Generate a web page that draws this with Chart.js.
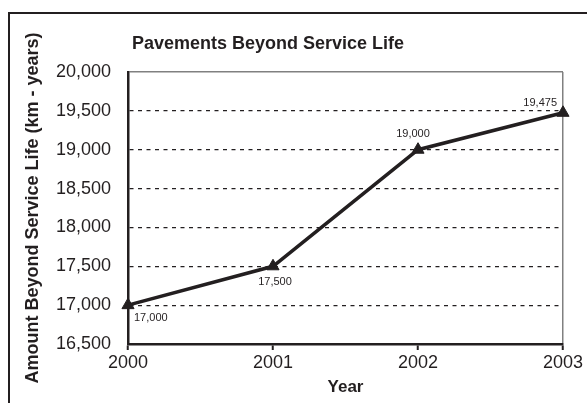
<!DOCTYPE html>
<html>
<head>
<meta charset="utf-8">
<script src="https://cdn.jsdelivr.net/npm/chart.js@4/dist/chart.umd.min.js"></script>
<style>
  html, body { margin: 0; padding: 0; background: #fff; }
  #wrap { width: 587px; height: 403px; position: relative; }
</style>
</head>
<body>
<div id="wrap"><canvas id="chart"></canvas></div>
<script>
const years = ["2000", "2001", "2002", "2003"];
const amounts = [17000, 17500, 19000, 19475];
// where each value label sits relative to its point
const labelSpots = ["belowRight", "below", "aboveLeft", "leftHigh"];
const yMin = 16500;
const yMax = 20000;
const yStep = 500;

const INK = "#231f20";
const FONT = "Arial, 'Liberation Sans', Helvetica, sans-serif";

const fmt = (v) => Number(v).toLocaleString("en-US");

// outer frame and the chart heading
const framePlugin = {
  id: "frame",
  beforeDraw(chart) {
    const { ctx } = chart;
    ctx.save();
    ctx.strokeStyle = INK;
    ctx.lineWidth = 2;
    ctx.beginPath();
    ctx.moveTo(9, chart.height);
    ctx.lineTo(9, 13);
    ctx.lineTo(chart.width, 13);
    ctx.stroke();

    ctx.fillStyle = INK;
    ctx.font = `bold 18px ${FONT}`;
    ctx.textAlign = "center";
    ctx.textBaseline = "middle";
    ctx.fillText("Pavements Beyond Service Life", 268, 44);
    ctx.restore();
  },
};

// small value labels next to each point
const valueLabels = {
  id: "valueLabels",
  afterDatasetsDraw(chart) {
    const { ctx } = chart;
    const meta = chart.getDatasetMeta(0);
    ctx.save();
    ctx.fillStyle = INK;
    ctx.font = `11px ${FONT}`;
    ctx.textBaseline = "middle";
    meta.data.forEach((pt, i) => {
      const text = fmt(amounts[i]);
      let x = pt.x;
      let y = pt.y;
      switch (labelSpots[i]) {
        case "belowRight":
          ctx.textAlign = "left"; x += 6; y += 13; break;
        case "below":
          ctx.textAlign = "center"; x += 2; y += 16; break;
        case "aboveLeft":
          ctx.textAlign = "center"; x -= 5; y -= 16; break;
        default:
          ctx.textAlign = "right"; x -= 6; y -= 10; break;
      }
      ctx.fillText(text, x, y);
    });
    ctx.restore();
  },
};

new Chart(document.getElementById("chart"), {
  type: "line",
  data: {
    labels: years,
    datasets: [{
      data: amounts,
      borderColor: INK,
      borderWidth: 3.5,
      backgroundColor: INK,
      pointStyle: "triangle",
      pointRadius: 7,
      pointBorderWidth: 1,
      pointBackgroundColor: INK,
      pointBorderColor: INK,
      tension: 0,
      fill: false,
    }],
  },
  options: {
    responsive: true,
    maintainAspectRatio: false,
    animation: false,
    devicePixelRatio: 1,
    layout: { padding: { left: 20, top: 72, right: 24, bottom: 0 } },
    plugins: {
      legend: { display: false },
      tooltip: { enabled: false },
      title: { display: false },
    },
    scales: {
      x: {
        offset: false,
        grid: {
          drawOnChartArea: true,
          color: (c) => (c.index === years.length - 1 ? "#808080" : "rgba(0,0,0,0)"),
          lineWidth: 1.5,
          drawTicks: true,
          tickLength: 6,
          tickColor: INK,
          tickWidth: 2,
        },
        border: { display: true, color: INK, width: 2.5 },
        ticks: {
          color: INK,
          font: { family: FONT, size: 18 },
          padding: 2,
          maxRotation: 0,
        },
        title: {
          display: true,
          text: "Year",
          color: INK,
          font: { family: FONT, size: 17, weight: "bold" },
          padding: { top: 0, bottom: 5 },
        },
        afterFit(scale) { scale.height = 59; },
      },
      y: {
        min: yMin,
        max: yMax,
        grid: {
          drawTicks: false,
          color: (c) => (c.tick && c.tick.value === yMax ? "#808080" : INK),
          lineWidth: (c) => (c.tick && c.tick.value === yMax ? 1.5 : 1.2),
        },
        border: {
          display: true,
          color: INK,
          width: 2.5,
          dash: (c) => (c.tick && c.tick.value === yMax ? [] : [4, 4.5]),
        },
        ticks: {
          stepSize: yStep,
          color: INK,
          font: { family: FONT, size: 18 },
          padding: 17,
          callback: (v) => fmt(v),
        },
        title: {
          display: true,
          text: "Amount Beyond Service Life (km - years)",
          color: INK,
          font: { family: FONT, size: 18, weight: "bold" },
          padding: { top: 2, bottom: 0 },
        },
        afterFit(scale) { scale.width = 108; },
      },
    },
  },
  plugins: [framePlugin, valueLabels],
});
</script>
</body>
</html>
